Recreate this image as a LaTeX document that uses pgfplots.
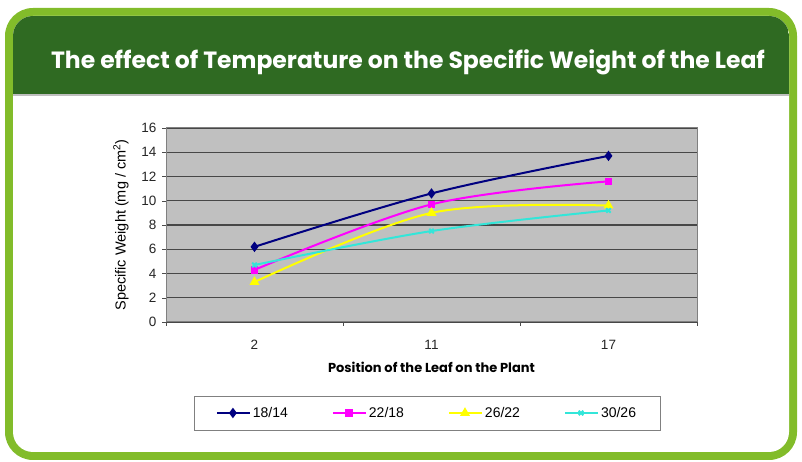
\documentclass[border=0pt]{standalone}
\usepackage{fontspec}
\setmainfont{Liberation Sans}
\newfontfamily\gothic{Poppins}
\usepackage{pgfplots}
\pgfplotsset{compat=1.18}

\definecolor{frameLight}{HTML}{82BC2A}
\definecolor{frameDark}{HTML}{2F6A22}
\definecolor{plotGray}{HTML}{C0C0C0}
\definecolor{sNavy}{HTML}{000080}
\definecolor{sMagenta}{HTML}{FF00FF}
\definecolor{sYellow}{HTML}{FFFF00}
\definecolor{sCyan}{HTML}{33E6D9}

\begin{document}
\begin{tikzpicture}[x=1pt,y=1pt]
  % page frame
  \useasboundingbox (0,0) rectangle (802,462);
  \fill[frameLight, rounded corners=28pt] (5,2) rectangle (797,454);
  \fill[white, rounded corners=20pt] (13,10) rectangle (789,446);
  \begin{scope}
    \clip[rounded corners=20pt] (13,10) rectangle (789,446);
    \fill[frameDark] (13,367) rectangle (789,446);
    \fill[black!25] (13,366) rectangle (789,367.5);
  \end{scope}
  \node[text=white, font=\gothic\bfseries\fontsize{23.5}{26}\selectfont] at (408,400)
    {The effect of Temperature on the Specific Weight of the Leaf};

  \begin{axis}[
    at={(166pt,140pt)}, anchor=south west,
    width=531pt, height=194pt, scale only axis,
    xmin=-0.5, xmax=2.5, ymin=0, ymax=16,
    xtick={0,1,2}, xticklabels={2,11,17},
    minor xtick={-0.5,0.5,1.5,2.5},
    ytick={0,2,...,16},
    major x tick style={draw=none},
    tick align=outside, tick pos=left,
    major tick length=4pt, minor tick length=4pt,
    tick style={black!70},
    ymajorgrids, grid style={black!72, line width=1.3pt},
    axis background/.style={fill=plotGray},
    axis line style={draw=gray},
    x axis line style={draw=black, line width=1pt},
    /pgf/number format/assume math mode=true,
    ticklabel style={font=\fontsize{13.5}{15}\selectfont, text=black!85},
    xticklabel style={yshift=-11pt},
    yticklabel style={xshift=-2pt},
    xlabel={Position of the Leaf on the Plant},
    xlabel style={at={(axis description cs:0.5,-0.232)}, anchor=center,
      font=\gothic\bfseries\fontsize{13}{15}\selectfont},
    ylabel={Specific Weight (mg / cm\textsuperscript{2})},
    ylabel style={at={(axis description cs:-0.0847,0.5)}, anchor=center,
      font=\fontsize{14.5}{16}\selectfont},
    legend columns=4,
    legend image code/.code={%
      \draw[mark repeat=2,mark phase=2,#1] plot coordinates {(0pt,0pt) (16pt,0pt) (33pt,0pt)};},
    legend style={at={(0.4915,-0.469)}, anchor=center, draw=gray, fill=white,
      font=\fontsize{14}{16}\selectfont, inner xsep=22pt, inner ysep=9pt,
      /tikz/every even column/.append style={column sep=42pt}},
    every axis plot/.append style={line width=2pt, smooth, tension=0.55},
  ]
    \addplot[color=sNavy, mark=diamond*, mark size=3.6pt, mark options={solid}]
      coordinates {(0,6.2) (1,10.6) (2,13.7)};
    \addlegendentry{18/14}
    \addplot[color=sMagenta, mark=square*, mark size=2.8pt]
      coordinates {(0,4.3) (1,9.7) (2,11.6)};
    \addlegendentry{22/18}
    \addplot[color=sYellow, mark=triangle*, mark size=3.8pt]
      coordinates {(0,3.3) (1,9.0) (2,9.6)};
    \addlegendentry{26/22}
    \addplot[color=sCyan, mark=x, mark size=3.2pt]
      coordinates {(0,4.7) (1,7.5) (2,9.2)};
    \addlegendentry{30/26}
  \end{axis}
\end{tikzpicture}
\end{document}
